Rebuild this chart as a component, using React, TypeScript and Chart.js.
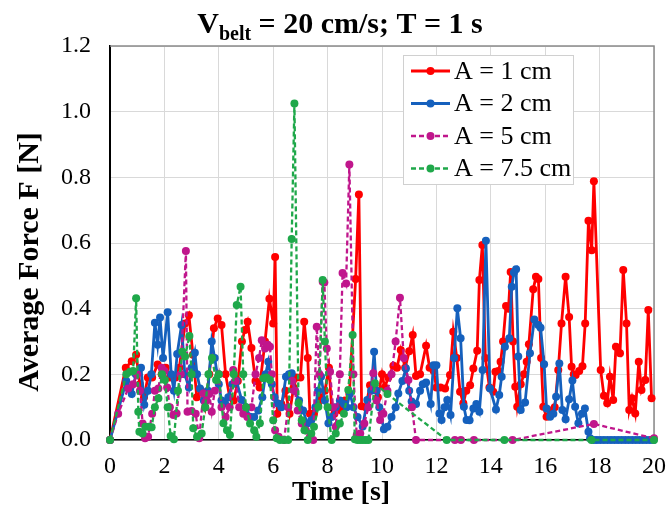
import React, { useEffect, useRef } from 'react';
import { Chart, registerables } from 'chart.js';

Chart.register(...registerables);

const FONT = '"Liberation Serif", "Times New Roman", serif';

const seriesLabels = ['A = 1 cm', 'A = 2 cm', 'A = 5 cm', 'A = 7.5 cm'];
const seriesColors = ['#FF0000', '#1560BD', '#C0168C', '#1FA84A'];
const seriesDashed = [false, false, true, true];

const titleMain = 'V';
const titleSub = 'belt';
const titleRest = ' = 20 cm/s; T = 1 s';
const xTitle = 'Time [s]';
const yTitle = 'Average Force F [N]';

const xMin = 0, xMax = 20, xStep = 2;
const yMin = 0, yMax = 1.2, yStep = 0.2;

const redTime = [0, 0.58, 0.8, 0.96, 1.1, 1.25, 1.39, 1.55, 1.75, 1.9, 2.05, 2.2, 2.41, 2.55, 2.76, 2.9, 3.05, 3.19, 3.35, 3.5, 3.65, 3.82, 3.96, 4.1, 4.25, 4.4, 4.55, 4.7, 4.85, 4.96, 5.06, 5.2, 5.35, 5.5, 5.7, 5.86, 6.0, 6.07, 6.15, 6.3, 6.45, 6.6, 6.75, 6.86, 7.0, 7.14, 7.27, 7.35, 7.5, 7.65, 7.76, 7.9, 8.05, 8.15, 8.25, 8.4, 8.5, 8.64, 8.8, 9.03, 9.15, 9.25, 9.4, 9.56, 9.7, 9.85, 10.0, 10.1, 10.23, 10.42, 10.55, 10.69, 10.85, 11.0, 11.13, 11.25, 11.4, 11.62, 11.75, 11.9, 12.0, 12.15, 12.32, 12.5, 12.62, 12.75, 12.87, 12.99, 13.1, 13.24, 13.36, 13.5, 13.58, 13.69, 13.8, 13.95, 14.09, 14.17, 14.28, 14.36, 14.45, 14.56, 14.65, 14.73, 14.82, 14.9, 14.97, 15.1, 15.22, 15.32, 15.4, 15.56, 15.66, 15.75, 15.85, 15.93, 16.05, 16.2, 16.35, 16.48, 16.6, 16.75, 16.88, 16.97, 17.05, 17.12, 17.25, 17.37, 17.47, 17.59, 17.71, 17.79, 18.04, 18.16, 18.28, 18.38, 18.5, 18.6, 18.75, 18.87, 18.99, 19.09, 19.19, 19.31, 19.44, 19.54, 19.68, 19.79, 19.91];
const redForce = [0, 0.22, 0.24, 0.26, 0.17, 0.13, 0.19, 0.19, 0.23, 0.2, 0.22, 0.19, 0.19, 0.22, 0.355, 0.38, 0.26, 0.13, 0.15, 0.1, 0.2, 0.34, 0.37, 0.35, 0.2, 0.13, 0.12, 0.18, 0.3, 0.335, 0.36, 0.28, 0.18, 0.16, 0.3, 0.43, 0.355, 0.557, 0.08, 0.11, 0.15, 0.08, 0.16, 0.19, 0.19, 0.36, 0.25, 0.08, 0.08, 0.11, 0.13, 0.15, 0.22, 0.1, 0.08, 0.1, 0.09, 0.12, 0.14, 0.49, 0.748, 0.103, 0.1, 0.167, 0.17, 0.13, 0.2, 0.16, 0.19, 0.226, 0.22, 0.274, 0.22, 0.27, 0.32, 0.195, 0.2, 0.287, 0.22, 0.21, 0.16, 0.16, 0.157, 0.198, 0.33, 0.25, 0.147, 0.112, 0.15, 0.167, 0.218, 0.272, 0.487, 0.594, 0.25, 0.16, 0.147, 0.208, 0.21, 0.238, 0.3, 0.408, 0.4, 0.512, 0.3, 0.162, 0.101, 0.17, 0.2, 0.238, 0.292, 0.459, 0.497, 0.49, 0.25, 0.101, 0.071, 0.09, 0.1, 0.213, 0.355, 0.497, 0.375, 0.223, 0.2, 0.198, 0.21, 0.225, 0.355, 0.668, 0.578, 0.788, 0.213, 0.135, 0.112, 0.193, 0.122, 0.284, 0.264, 0.518, 0.355, 0.091, 0.127, 0.081, 0.238, 0.152, 0.183, 0.396, 0.127];

const blueTime = [0, 0.6, 0.8, 0.95, 1.14, 1.26, 1.4, 1.52, 1.65, 1.75, 1.84, 1.95, 2.12, 2.25, 2.35, 2.47, 2.63, 2.75, 2.9, 3.0, 3.12, 3.2, 3.31, 3.45, 3.6, 3.74, 3.85, 4.0, 4.1, 4.23, 4.35, 4.5, 4.65, 4.84, 5.0, 5.15, 5.3, 5.45, 5.6, 5.72, 5.82, 5.95, 6.05, 6.15, 6.3, 6.47, 6.58, 6.68, 6.8, 6.95, 7.1, 7.25, 7.4, 7.55, 7.65, 7.76, 7.9, 8.03, 8.15, 8.3, 8.45, 8.6, 8.7, 8.82, 8.95, 9.1, 9.29, 9.46, 9.6, 9.71, 9.8, 9.9, 10.07, 10.2, 10.35, 10.5, 10.6, 10.75, 10.88, 11.0, 11.09, 11.25, 11.4, 11.5, 11.62, 11.79, 11.89, 12.0, 12.11, 12.19, 12.3, 12.4, 12.52, 12.65, 12.77, 12.89, 13.01, 13.11, 13.22, 13.36, 13.47, 13.58, 13.7, 13.82, 13.97, 14.19, 14.31, 14.4, 14.52, 14.68, 14.77, 14.85, 14.93, 15.01, 15.1, 15.26, 15.44, 15.6, 15.75, 15.83, 15.96, 16.05, 16.18, 16.3, 16.4, 16.52, 16.63, 16.75, 16.88, 17.0, 17.1, 17.22, 17.35, 17.46, 17.59, 17.65, 17.78, 17.9, 18.03, 18.16, 18.29, 18.42, 18.55, 18.68, 18.81, 18.94, 19.07, 19.2, 19.33, 19.46, 19.59, 19.72, 19.85, 19.98];
const blueForce = [0, 0.18, 0.14, 0.2, 0.22, 0.107, 0.15, 0.2, 0.357, 0.29, 0.373, 0.25, 0.389, 0.2, 0.15, 0.262, 0.35, 0.2, 0.16, 0.22, 0.266, 0.2, 0.157, 0.12, 0.15, 0.3, 0.25, 0.17, 0.12, 0.112, 0.13, 0.17, 0.18, 0.122, 0.1, 0.071, 0.07, 0.09, 0.13, 0.2, 0.238, 0.17, 0.13, 0.112, 0.1, 0.193, 0.2, 0.203, 0.15, 0.12, 0.09, 0.05, 0.06, 0.1, 0.15, 0.193, 0.12, 0.051, 0.07, 0.1, 0.12, 0.11, 0.1, 0.142, 0.1, 0.07, 0.041, 0.122, 0.15, 0.269, 0.15, 0.1, 0.033, 0.04, 0.07, 0.1, 0.142, 0.18, 0.218, 0.15, 0.117, 0.11, 0.15, 0.17, 0.175, 0.11, 0.228, 0.228, 0.081, 0.061, 0.1, 0.122, 0.076, 0.25, 0.401, 0.31, 0.101, 0.061, 0.06, 0.096, 0.11, 0.086, 0.213, 0.607, 0.157, 0.093, 0.137, 0.193, 0.284, 0.31, 0.467, 0.51, 0.52, 0.254, 0.091, 0.114, 0.264, 0.367, 0.35, 0.342, 0.231, 0.096, 0.071, 0.08, 0.132, 0.233, 0.091, 0.063, 0.124, 0.181, 0.101, 0.051, 0.08, 0.096, 0.025, 0.005, 0, 0, 0, 0, 0, 0, 0, 0, 0, 0, 0, 0, 0, 0, 0, 0, 0, 0];

const magentaTime = [0, 0.3, 0.67, 0.85, 1.0, 1.1, 1.2, 1.29, 1.4, 1.55, 1.65, 1.78, 1.9, 2.0, 2.1, 2.2, 2.33, 2.45, 2.6, 2.79, 2.85, 3.0, 3.15, 3.28, 3.43, 3.55, 3.65, 3.74, 3.85, 4.0, 4.1, 4.25, 4.4, 4.53, 4.62, 4.75, 4.9, 5.05, 5.2, 5.35, 5.48, 5.58, 5.7, 5.8, 5.88, 5.95, 6.07, 6.2, 6.4, 6.55, 6.7, 6.8, 6.9, 7.05, 7.2, 7.35, 7.47, 7.6, 7.7, 7.82, 7.88, 7.97, 8.09, 8.2, 8.3, 8.45, 8.55, 8.68, 8.8, 8.95, 9.07, 9.2, 9.35, 9.5, 9.68, 9.8, 9.93, 10.05, 10.2, 10.35, 10.5, 10.66, 10.8, 10.97, 11.1, 11.25, 12.68, 12.9, 13.38, 14.8, 17.79, 20.0];
const magentaForce = [0, 0.08, 0.157, 0.17, 0.2, 0.15, 0.05, 0.005, 0.01, 0.08, 0.15, 0.157, 0.22, 0.21, 0.16, 0.1, 0.076, 0.081, 0.2, 0.576, 0.086, 0.088, 0.08, 0.005, 0.142, 0.12, 0.14, 0.086, 0.15, 0.2, 0.1, 0.07, 0.1, 0.213, 0.18, 0.1, 0.08, 0.07, 0.1, 0.2, 0.25, 0.304, 0.279, 0.29, 0.284, 0.2, 0.03, 0.01, 0, 0.1, 0.18, 0.15, 0.09, 0.05, 0.03, 0.01, 0, 0.345, 0.2, 0.482, 0.48, 0.279, 0.208, 0.1, 0.04, 0.2, 0.509, 0.477, 0.839, 0.2, 0.015, 0.02, 0.05, 0.1, 0.203, 0.12, 0.061, 0.08, 0.15, 0.2, 0.3, 0.433, 0.25, 0.183, 0.1, 0, 0, 0, 0, 0, 0.049, 0.005];

const greenTime = [0, 0.6, 0.74, 0.85, 0.96, 1.04, 1.08, 1.2, 1.3, 1.43, 1.53, 1.65, 1.78, 1.91, 2.02, 2.12, 2.23, 2.35, 2.5, 2.66, 2.76, 2.92, 3.0, 3.06, 3.2, 3.37, 3.5, 3.62, 3.75, 3.9, 4.0, 4.17, 4.3, 4.41, 4.55, 4.66, 4.8, 4.9, 5.0, 5.15, 5.3, 5.38, 5.51, 5.64, 5.75, 5.88, 6.0, 6.13, 6.25, 6.4, 6.55, 6.68, 6.78, 6.93, 7.05, 7.15, 7.27, 7.4, 7.5, 7.66, 7.82, 7.9, 8.0, 8.15, 8.3, 8.45, 8.6, 8.76, 8.92, 9.0, 9.1, 9.2, 9.3, 9.4, 9.5, 9.74, 10.2, 12.38, 14.5, 17.7, 20.0];
const greenForce = [0, 0.2, 0.208, 0.21, 0.432, 0.086, 0.025, 0.02, 0.04, 0.04, 0.039, 0.1, 0.127, 0.2, 0.183, 0.1, 0.012, 0.002, 0.15, 0.269, 0.254, 0.317, 0.2, 0.036, 0.01, 0.02, 0.1, 0.2, 0.25, 0.183, 0.2, 0.051, 0.03, 0.015, 0.2, 0.411, 0.467, 0.2, 0.1, 0.05, 0.03, 0.01, 0.051, 0.188, 0.19, 0.183, 0.06, 0.005, 0, 0, 0, 0.612, 1.025, 0.112, 0.06, 0.03, 0, 0.02, 0.04, 0.101, 0.487, 0.3, 0.1, 0, 0.02, 0.05, 0.08, 0.152, 0.32, 0.002, 0, 0, 0, 0, 0, 0.173, 0.14, 0, 0, 0, 0];

const seriesTimes = [redTime, blueTime, magentaTime, greenTime];
const seriesForces = [redForce, blueForce, magentaForce, greenForce];

function zip(t: number[], f: number[]) {
  const n = Math.min(t.length, f.length);
  const out: { x: number; y: number }[] = [];
  for (let i = 0; i < n; i++) out.push({ x: t[i], y: f[i] });
  return out;
}

const decorPlugin = {
  id: 'decor',
  beforeDatasetsDraw(chart: any) {
    const { ctx, chartArea } = chart;
    const { left, right, top, bottom } = chartArea;
    ctx.save();
    ctx.strokeStyle = '#8a8a8a';
    ctx.lineWidth = 1.5;
    ctx.beginPath();
    ctx.moveTo(left, top);
    ctx.lineTo(right, top);
    ctx.lineTo(right, bottom);
    ctx.stroke();
    ctx.restore();
  },
  afterDraw(chart: any) {
    const { ctx, chartArea } = chart;
    ctx.save();
    // chart title with subscript
    const mainFont = `bold 30px ${FONT}`;
    const subFont = `bold 20px ${FONT}`;
    ctx.font = mainFont;
    const wMain = ctx.measureText(titleMain).width;
    const wRest = ctx.measureText(titleRest).width;
    ctx.font = subFont;
    const wSub = ctx.measureText(titleSub).width;
    const total = wMain + wSub + wRest;
    let x = 340 - total / 2;
    const base = 33;
    ctx.fillStyle = '#000';
    ctx.textBaseline = 'alphabetic';
    ctx.textAlign = 'left';
    ctx.font = mainFont;
    ctx.fillText(titleMain, x, base);
    x += wMain;
    ctx.font = subFont;
    ctx.fillText(titleSub, x, base + 7);
    x += wSub;
    ctx.font = mainFont;
    ctx.fillText(titleRest, x, base);

    // axis titles
    ctx.textAlign = 'center';
    ctx.textBaseline = 'middle';
    ctx.font = `bold 28px ${FONT}`;
    ctx.fillText(xTitle, 341, 493);
    ctx.save();
    ctx.translate(30, 262);
    ctx.rotate(-Math.PI / 2);
    ctx.font = `bold 30px ${FONT}`;
    ctx.fillText(yTitle, 0, 0);
    ctx.restore();

    // legend
    ctx.textAlign = 'left';
    const bx = chartArea.right - 251;
    const by = chartArea.top + 9;
    const bw = 170;
    const bh = 129;
    ctx.fillStyle = '#ffffff';
    ctx.fillRect(bx, by, bw, bh);
    ctx.strokeStyle = '#d0d0d0';
    ctx.lineWidth = 1;
    ctx.strokeRect(bx + 0.5, by + 0.5, bw, bh);
    const rowH = 32.5;
    for (let i = 0; i < seriesLabels.length; i++) {
      const cy = by + 16 + i * rowH;
      ctx.strokeStyle = seriesColors[i];
      ctx.lineWidth = seriesDashed[i] ? 2.3 : 2.8;
      ctx.setLineDash(seriesDashed[i] ? [5, 3] : []);
      ctx.beginPath();
      ctx.moveTo(bx + 8, cy);
      ctx.lineTo(bx + 47, cy);
      ctx.stroke();
      ctx.setLineDash([]);
      ctx.fillStyle = seriesColors[i];
      ctx.beginPath();
      ctx.arc(bx + 27.5, cy, 4, 0, Math.PI * 2);
      ctx.fill();
      ctx.fillStyle = '#000';
      ctx.font = `26px ${FONT}`;
      ctx.textBaseline = 'middle';
      ctx.fillText(seriesLabels[i], bx + 51, cy + 1);
    }
    ctx.restore();
  },
};

export default function App() {
  const ref = useRef<HTMLCanvasElement>(null);
  useEffect(() => {
    document.body.style.margin = '0';
    const canvas = ref.current;
    if (!canvas) return;
    const datasets = seriesLabels.map((label, i) => ({
      label,
      data: zip(seriesTimes[i], seriesForces[i]),
      borderColor: seriesColors[i],
      backgroundColor: seriesColors[i],
      pointBackgroundColor: seriesColors[i],
      pointBorderColor: seriesColors[i],
      pointBorderWidth: 0,
      pointRadius: 4,
      pointHoverRadius: 4,
      borderWidth: seriesDashed[i] ? 2.3 : 2.8,
      borderDash: seriesDashed[i] ? [5, 3] : [],
      tension: 0,
      fill: false,
      clip: false as any,
      order: 4 - i,
    }));
    const chart = new Chart(canvas, {
      type: 'line',
      data: { datasets },
      plugins: [decorPlugin],
      options: {
        animation: false,
        responsive: false,
        maintainAspectRatio: false,
        events: [],
        layout: { padding: { top: 46, right: 14, left: 0, bottom: 0 } },
        plugins: {
          legend: { display: false },
          title: { display: false },
          tooltip: { enabled: false },
        },
        scales: {
          x: {
            type: 'linear',
            min: xMin,
            max: xMax,
            afterFit(scale: any) {
              scale.height = 82;
              scale.paddingLeft = 0;
              scale.paddingRight = 0;
            },
            ticks: {
              stepSize: xStep,
              color: '#000',
              font: { family: FONT, size: 24 },
              padding: 12,
              maxRotation: 0,
              autoSkip: false,
            },
            grid: { color: '#d9d9d9', lineWidth: 1, drawTicks: false },
            border: { color: '#000', width: 1.5 },
            title: { display: false },
          },
          y: {
            type: 'linear',
            min: yMin,
            max: yMax,
            afterFit(scale: any) {
              scale.width = 110;
              scale.paddingTop = 0;
              scale.paddingBottom = 0;
            },
            ticks: {
              stepSize: yStep,
              color: '#000',
              font: { family: FONT, size: 24 },
              padding: 19,
              callback: (v: any) => Number(v).toFixed(1),
            },
            grid: { color: '#d9d9d9', lineWidth: 1, drawTicks: false },
            border: { color: '#000', width: 2 },
            title: { display: false },
          },
        },
      } as any,
    });
    return () => chart.destroy();
  }, []);
  return (
    <div style={{ width: 668, height: 522, position: 'relative' }}>
      <canvas ref={ref} width={668} height={522} style={{ width: 668, height: 522, display: 'block' }} />
    </div>
  );
}
